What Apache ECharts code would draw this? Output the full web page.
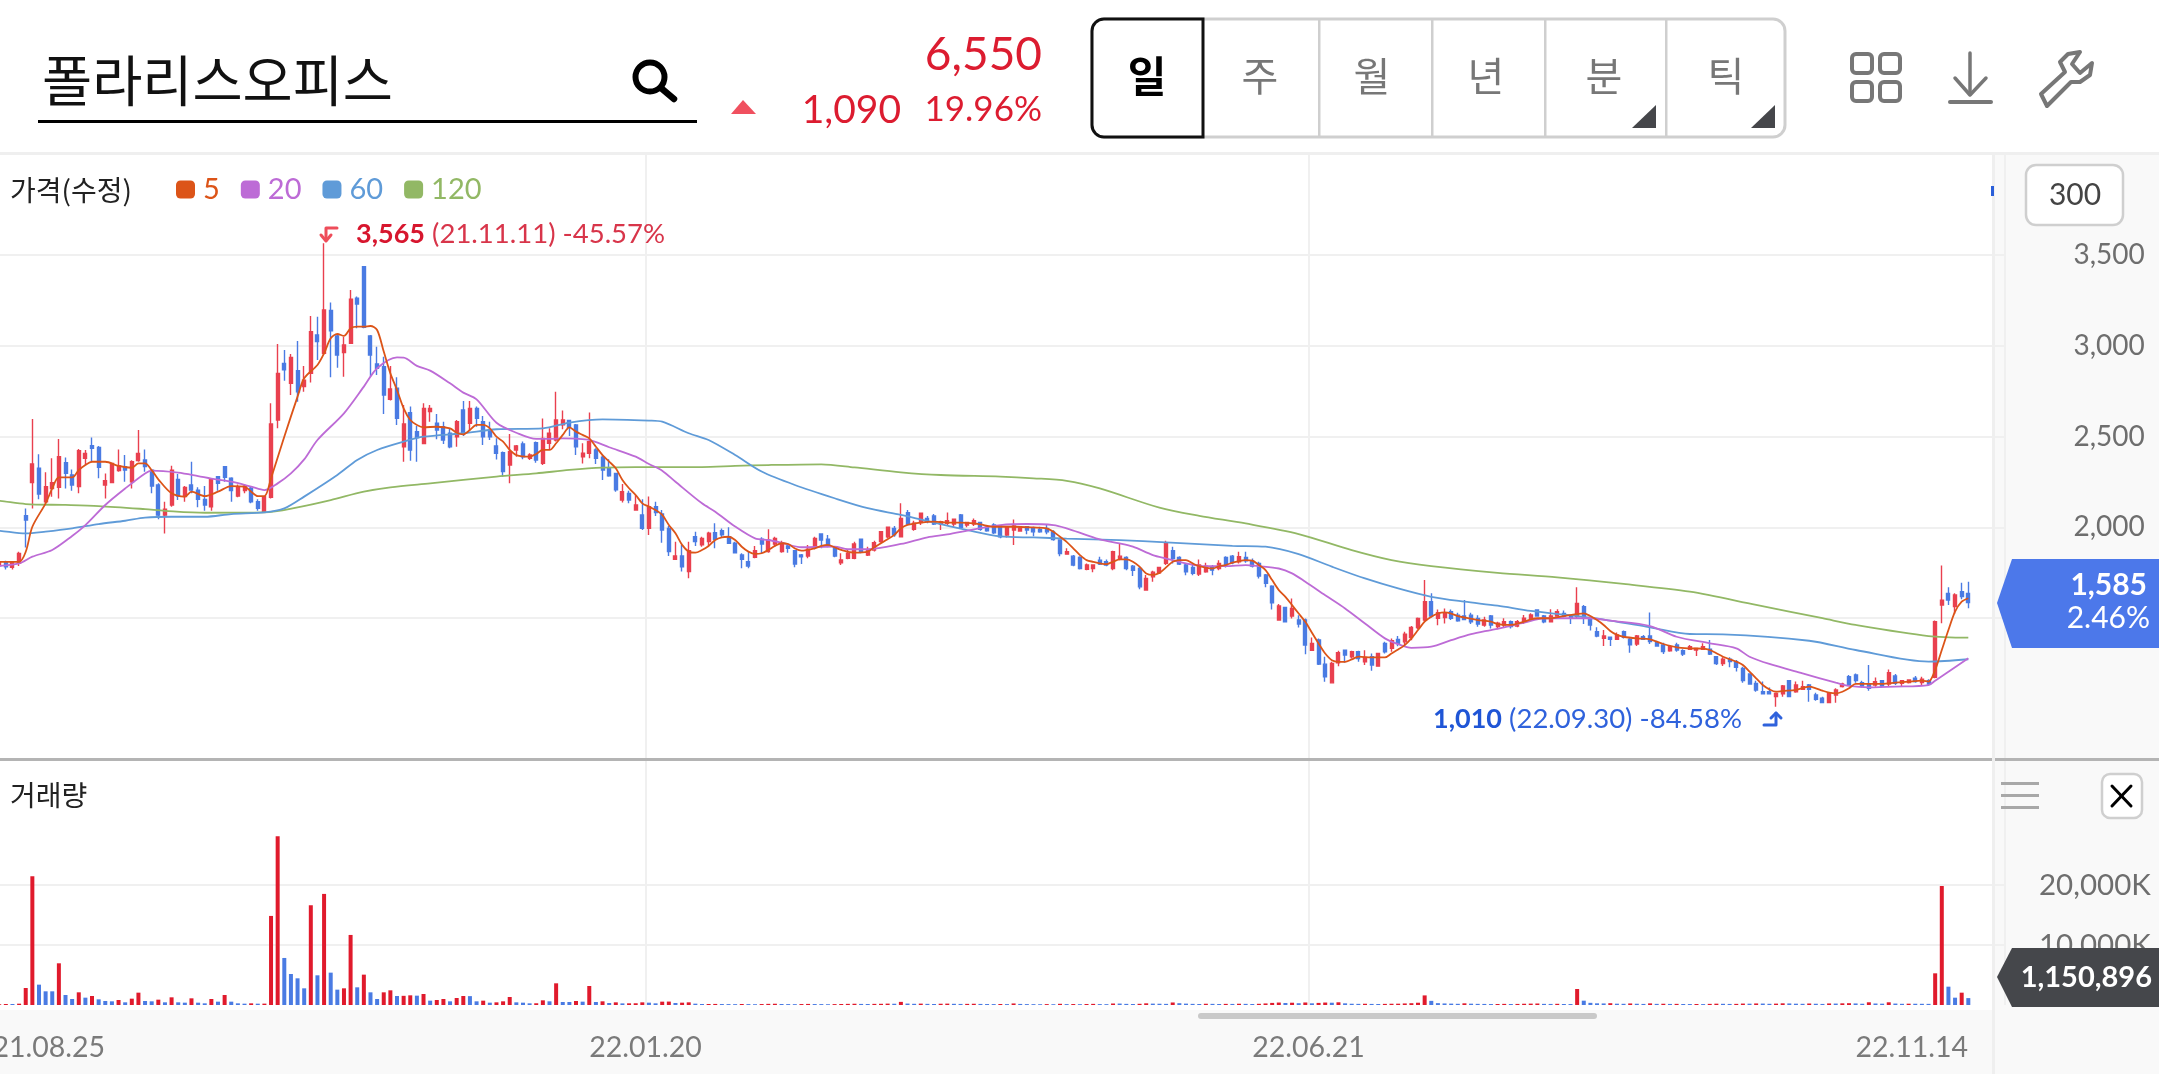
<!DOCTYPE html>
<html>
<head>
<meta charset="utf-8">
<title>폴라리스오피스</title>
<style>
  html, body { margin: 0; padding: 0; background: #fff; overflow: hidden; }
  #chart { width: 2159px; height: 1074px; }
</style>
<script src="https://cdn.jsdelivr.net/npm/echarts@6/dist/echarts.min.js"></script>
</head>
<body>
<div id="chart"></div>
<script>
// 일봉: [시가, 종가, 저가, 고가]
const candles = [
  [1830,1800,1790,1840],[1800,1815,1790,1825],[1790,1805,1775,1815],[1805,1783,1768,1816],[1779,1805,1768,1810],
  [1801,1856,1787,1865],[2064,2040,1889,2104],[2246,2349,2104,2597],[2325,2183,2154,2402],[2141,2224,2132,2303],
  [2214,2246,2168,2380],[2220,2389,2159,2486],[2356,2297,2214,2385],[2288,2233,2202,2319],[2224,2422,2187,2431],
  [2380,2407,2343,2426],[2450,2435,2361,2495],[2440,2330,2270,2448],[2233,2257,2159,2297],[2246,2352,2245,2355],
  [2312,2338,2306,2429],[2334,2316,2251,2398],[2251,2361,2214,2370],[2367,2407,2361,2536],[2371,2334,2306,2429],
  [2315,2227,2187,2319],[2233,2067,2044,2242],[2067,2099,1966,2141],[2123,2315,2113,2339],[2264,2172,2150,2293],
  [2169,2220,2141,2227],[2233,2205,2187,2361],[2205,2154,2110,2220],[2154,2123,2091,2227],[2113,2264,2091,2270],
  [2279,2242,2202,2282],[2334,2275,2251,2338],[2270,2202,2141,2275],[2172,2224,2165,2236],[2202,2227,2187,2238],
  [2215,2141,2132,2224],[2141,2104,2091,2154],[2086,2169,2086,2169],[2165,2569,2159,2683],[2591,2848,2545,3010],
  [2903,2867,2808,2977],[2793,2936,2729,2955],[2863,2747,2692,3026],[2775,2811,2747,2889],[2848,3078,2797,3164],
  [3059,3023,2922,3160],[2958,3197,2949,3565],[3194,3083,2826,3239],[3054,2949,2879,3059],[2962,3004,2830,3050],
  [3014,3256,3010,3307],[3262,3230,3096,3271],[3436,3102,3096,3436],[3054,2949,2834,3059],[2900,2876,2839,2995],
  [2885,2729,2624,2940],[2705,2762,2698,2889],[2766,2600,2564,2826],[2444,2569,2361,2674],[2631,2426,2367,2665],
  [2527,2495,2361,2558],[2462,2655,2459,2683],[2637,2655,2582,2674],[2573,2536,2485,2624],[2554,2481,2459,2582],
  [2518,2444,2435,2545],[2499,2582,2444,2591],[2646,2518,2503,2696],[2573,2655,2536,2696],[2655,2600,2554,2665],
  [2582,2499,2453,2613],[2536,2499,2481,2582],[2448,2407,2374,2490],[2411,2307,2279,2417],[2343,2417,2242,2514],
  [2426,2448,2389,2453],[2459,2389,2375,2472],[2380,2398,2371,2408],[2466,2371,2356,2472],[2352,2490,2343,2600],
  [2463,2518,2430,2545],[2481,2591,2472,2747],[2564,2591,2540,2643],[2588,2551,2503,2591],[2564,2444,2398,2569],
  [2389,2408,2352,2463],[2408,2472,2380,2632],[2426,2380,2349,2435],[2386,2316,2261,2398],[2325,2283,2279,2375],
  [2297,2206,2196,2297],[2150,2196,2136,2239],[2187,2150,2132,2202],[2095,2123,2092,2178],[2068,1994,1985,2154],
  [1994,2114,1958,2169],[2114,2081,2062,2141],[2073,1985,1915,2095],[1994,1866,1842,2007],[1824,1842,1824,1921],
  [1842,1783,1756,1903],[1756,1871,1719,1921],[1948,1921,1897,1976],[1903,1939,1893,1948],[1921,1967,1897,1976],
  [1970,1934,1884,2022],[1981,1958,1945,1994],[1948,1912,1908,2000],[1912,1860,1857,1921],[1847,1824,1774,1857],
  [1811,1787,1774,1866],[1835,1871,1829,1897],[1934,1908,1857,1945],[1866,1930,1860,1989],[1908,1939,1893,1948],
  [1866,1915,1860,1926],[1897,1884,1860,1912],[1871,1798,1780,1875],[1847,1838,1798,1853],[1842,1879,1829,1903],
  [1890,1939,1879,1948],[1963,1930,1884,1967],[1934,1897,1890,1958],[1893,1842,1835,1897],[1805,1820,1792,1857],
  [1829,1857,1824,1875],[1829,1908,1824,1921],[1934,1866,1857,1934],[1847,1871,1842,1893],[1875,1915,1866,1926],
  [1921,1976,1915,1976],[1948,2000,1939,2003],[1994,1958,1948,2007],[1948,2049,1945,2132],[2081,2018,2013,2095],
  [1989,2022,1981,2036],[2026,2077,2013,2081],[2049,2031,2022,2062],[2062,2018,2013,2073],[2018,2031,1985,2036],
  [2022,2036,2007,2081],[2018,2044,2003,2049],[2068,2000,1994,2073],[2013,2026,2000,2031],[2018,2036,2007,2049],
  [2026,1989,1981,2031],[2000,1981,1976,2013],[2013,1970,1963,2022],[2007,1948,1939,2012],[1957,1999,1944,2007],
  [1985,2007,1902,2043],[1979,1994,1975,2007],[2003,1985,1962,2007],[1994,1975,1951,2003],[1988,1975,1970,2003],
  [1994,1975,1962,2017],[1975,1933,1926,1984],[1930,1856,1841,1930],[1852,1865,1852,1884],[1841,1792,1786,1847],
  [1834,1773,1768,1841],[1768,1792,1764,1801],[1773,1792,1753,1797],[1819,1797,1792,1838],[1810,1792,1786,1823],
  [1773,1865,1764,1871],[1823,1841,1819,1911],[1834,1773,1764,1841],[1786,1763,1731,1792],[1773,1672,1658,1783],
  [1654,1718,1654,1737],[1727,1753,1700,1760],[1749,1779,1742,1783],[1801,1911,1792,1926],[1871,1828,1801,1893],
  [1834,1797,1792,1841],[1792,1755,1736,1801],[1779,1746,1736,1792],[1742,1792,1731,1823],[1755,1786,1749,1805],
  [1783,1764,1736,1792],[1773,1801,1764,1819],[1834,1792,1779,1841],[1841,1805,1797,1847],[1810,1838,1801,1865],
  [1834,1816,1805,1865],[1816,1786,1779,1828],[1801,1731,1718,1810],[1737,1691,1669,1742],[1676,1584,1547,1681],
  [1489,1566,1489,1577],[1558,1480,1480,1558],[1511,1553,1498,1608],[1489,1467,1448,1516],[1489,1351,1301,1498],
  [1323,1360,1323,1393],[1379,1246,1241,1388],[1246,1177,1149,1287],[1143,1250,1143,1259],[1254,1309,1235,1320],
  [1323,1296,1254,1327],[1287,1314,1277,1320],[1314,1277,1259,1320],[1259,1283,1241,1323],[1287,1241,1210,1305],
  [1235,1305,1235,1309],[1360,1314,1305,1369],[1333,1375,1314,1388],[1382,1360,1345,1401],[1369,1411,1351,1424],
  [1393,1448,1378,1456],[1448,1498,1438,1503],[1489,1590,1480,1709],[1590,1511,1503,1636],[1498,1529,1461,1547],
  [1503,1529,1470,1553],[1535,1498,1489,1547],[1516,1485,1480,1529],[1511,1492,1489,1599],[1516,1480,1467,1529],
  [1498,1467,1452,1516],[1461,1489,1452,1507],[1511,1462,1443,1517],[1453,1471,1438,1480],[1462,1480,1449,1499],
  [1480,1453,1443,1486],[1456,1480,1449,1489],[1480,1499,1467,1517],[1499,1517,1493,1526],[1544,1511,1508,1548],
  [1511,1480,1471,1517],[1480,1511,1475,1548],[1511,1535,1508,1548],[1526,1511,1504,1541],[1511,1499,1467,1517],
  [1508,1581,1499,1669],[1563,1499,1467,1572],[1493,1462,1431,1499],[1425,1401,1394,1449],[1388,1401,1346,1434],
  [1394,1383,1346,1397],[1383,1407,1379,1420],[1425,1394,1388,1431],[1383,1352,1309,1394],[1357,1401,1346,1407],
  [1397,1383,1379,1407],[1401,1370,1357,1530],[1364,1346,1342,1375],[1352,1315,1302,1364],[1319,1342,1315,1352],
  [1352,1324,1315,1364],[1320,1302,1291,1328],[1328,1342,1324,1352],[1324,1333,1291,1333],[1328,1342,1324,1361],
  [1328,1302,1297,1379],[1287,1250,1241,1291],[1250,1273,1236,1284],[1273,1260,1229,1284],[1260,1229,1205,1269],
  [1223,1155,1144,1232],[1192,1137,1137,1196],[1140,1104,1094,1155],[1094,1082,1082,1150],[1094,1082,1082,1118],
  [1067,1085,1012,1089],[1082,1126,1067,1131],[1155,1067,1063,1159],[1094,1131,1089,1150],[1107,1122,1104,1155],
  [1131,1107,1039,1137],[1076,1052,1045,1089],[1058,1034,1030,1067],[1034,1089,1034,1089],[1076,1104,1034,1113],
  [1122,1137,1118,1144],[1177,1131,1126,1186],[1186,1155,1144,1195],[1144,1126,1118,1155],[1137,1113,1100,1241],
  [1131,1150,1122,1173],[1155,1126,1118,1159],[1137,1199,1122,1217],[1181,1140,1131,1192],[1140,1155,1122,1159],
  [1144,1159,1140,1163],[1168,1150,1144,1181],[1144,1163,1131,1177],[1155,1137,1131,1163],[1173,1480,1168,1486],
  [1572,1599,1471,1789],[1636,1599,1572,1669],[1563,1627,1522,1636],[1645,1618,1603,1695],[1636,1585,1554,1700]
]

// 거래량 (단위 K)
const volumes = [
  170,110,140,170,170,220,2836,21462,3392,2280,
  2280,6950,1668,1000,2113,1223,1501,945,667,612,
  834,445,1056,2057,667,612,890,445,1279,445,
  389,1112,389,278,1000,556,1668,556,278,222,
  278,222,230,14845,28134,7840,5171,4448,2780,16624,
  4948,18515,5393,2558,2780,11676,2947,5060,2113,1000,
  2113,2446,1501,1530,1612,1557,1835,723,834,1000,
  612,1168,1501,1480,612,723,389,445,612,1334,
  445,389,278,290,778,612,3614,500,500,667,
  556,3169,500,612,334,445,270,280,290,445,
  389,278,556,570,334,389,445,222,167,170,
  180,160,150,140,170,150,130,160,190,210,
  170,150,140,160,180,160,150,130,150,170,
  190,210,180,170,190,200,230,210,520,240,
  200,230,190,170,210,230,200,180,190,210,
  180,160,150,170,150,260,180,150,140,130,
  150,130,200,150,160,140,170,190,150,140,
  250,240,190,170,200,280,230,210,190,420,
  300,230,190,170,210,190,170,190,180,210,
  190,170,200,260,350,410,330,380,300,420,
  280,350,410,380,450,280,210,190,210,180,
  170,190,210,220,260,300,380,1600,690,310,
  260,230,200,280,220,190,180,160,170,190,
  170,180,210,230,250,190,180,200,170,160,
  2670,720,360,280,260,300,220,200,260,210,
  180,270,190,210,180,190,170,160,170,150,
  190,220,200,180,190,240,220,260,240,200,
  230,280,260,220,200,250,210,180,260,240,
  280,300,260,210,450,250,220,450,240,200,
  220,210,200,190,5280,19830,3055,1220,2055,1151
]

// 이동평균선: 그림에서 읽은 [봉 번호, 값]
const ma5 = [
  [2,1810],[5,1810],[6,1865],[7,2003],[9,2132],[10,2214],[11,2275],[13,2275],[14,2315],[15,2343],[16,2361],[18,2361],
  [20,2338],[22,2328],[23,2352],[24,2352],[25,2315],[26,2264],[28,2187],[30,2169],[31,2196],[33,2172],[35,2196],[37,2227],
  [39,2224],[40,2196],[41,2172],[42,2172],[43,2270],[45,2499],[47,2720],[48,2821],[50,2894],[51,2958],[52,3041],[53,3065],
  [54,3054],[55,3096],[56,3105],[57,3105],[58,3109],[59,3087],[60,2968],[61,2848],[62,2756],[63,2655],[64,2591],[65,2564],
  [66,2551],[68,2554],[70,2545],[71,2521],[72,2512],[73,2536],[74,2564],[75,2564],[76,2545],[77,2499],[78,2472],[79,2426],
  [80,2398],[82,2389],[83,2404],[84,2426],[85,2426],[86,2463],[87,2509],[88,2551],[89,2527],[90,2509],[91,2490],[92,2444],
  [93,2398],[94,2362],[95,2325],[96,2261],[97,2215],[98,2178],[99,2132],[100,2114],[101,2095],[102,2068],[103,2013],[104,1967],
  [105,1903],[106,1866],[107,1860],[108,1875],[109,1897],[110,1930],[111,1945],[112,1948],[113,1930],[114,1893],[115,1866],[116,1853],
  [117,1857],[118,1875],[119,1897],[120,1912],[121,1908],[122,1884],[123,1871],[125,1884],[126,1897],[127,1903],[128,1890],[129,1875],
  [131,1860],[133,1866],[134,1890],[135,1912],[136,1934],[137,1958],[138,1994],[139,2013],[141,2026],[143,2031],[145,2026],[147,2026],
  [149,2022],[150,2016],[152,2003],[155,2003],[158,1999],[160,1994],[161,1975],[162,1948],[163,1920],[164,1884],[165,1847],[166,1819],
  [167,1810],[169,1797],[170,1810],[171,1823],[172,1823],[173,1810],[174,1783],[175,1746],[176,1738],[177,1749],[178,1779],[179,1810],
  [180,1819],[181,1819],[182,1801],[183,1786],[185,1773],[186,1786],[187,1792],[188,1805],[189,1814],[190,1819],[191,1816],[192,1792],
  [193,1764],[194,1709],[195,1654],[196,1617],[197,1571],[198,1525],[199,1479],[200,1419],[201,1360],[202,1305],[203,1268],[204,1259],
  [205,1259],[206,1272],[207,1287],[209,1283],[211,1283],[212,1305],[213,1327],[214,1351],[215,1388],[216,1434],[217,1480],[218,1507],
  [219,1525],[220,1531],[221,1525],[222,1511],[223,1503],[225,1489],[227,1480],[228,1467],[230,1462],[232,1480],[233,1493],[234,1499],
  [236,1499],[238,1511],[240,1522],[241,1526],[242,1511],[243,1489],[244,1462],[245,1429],[246,1407],[247,1397],[249,1388],[251,1383],
  [252,1370],[253,1357],[255,1339],[257,1333],[259,1331],[260,1324],[261,1306],[262,1287],[263,1273],[264,1260],[265,1241],[266,1205],
  [267,1168],[268,1131],[269,1107],[270,1094],[271,1098],[273,1104],[275,1122],[276,1113],[277,1100],[278,1089],[279,1085],[280,1094],
  [281,1113],[282,1137],[284,1137],[286,1137],[288,1144],[290,1150],[292,1155],[293,1150],[294,1214],[295,1324],[296,1434],[297,1535],
  [298,1590],[299,1609]
]
const ma20 = [
  [0,1775],[2,1786],[5,1801],[7,1838],[10,1875],[13,1952],[15,2012],[18,2123],[21,2214],[24,2297],[25,2312],[29,2301],[32,2282],
  [34,2268],[37,2251],[40,2224],[42,2205],[44,2242],[46,2297],[48,2374],[50,2481],[54,2628],[57,2775],[59,2876],[62,2936],
  [63,2935],[65,2889],[67,2863],[70,2793],[72,2742],[74,2705],[77,2576],[80,2521],[83,2487],[85,2487],[87,2490],[89,2488],
  [91,2481],[94,2441],[98,2389],[100,2349],[102,2312],[104,2251],[108,2132],[110,2086],[113,2004],[116,1939],[118,1930],[120,1915],
  [123,1890],[128,1893],[130,1879],[133,1879],[138,1908],[142,1945],[145,1961],[149,1989],[153,2012],[157,2018],[161,2012],[163,1994],
  [166,1957],[168,1933],[171,1911],[173,1893],[176,1847],[178,1828],[181,1801],[184,1786],[187,1786],[190,1792],[192,1786],[195,1773],
  [197,1746],[199,1700],[202,1626],[205,1553],[208,1470],[211,1388],[213,1356],[215,1336],[218,1342],[221,1378],[224,1411],[227,1434],
  [229,1449],[232,1475],[235,1499],[239,1499],[242,1499],[245,1486],[251,1456],[255,1397],[260,1361],[264,1333],[266,1287],[269,1247],
  [274,1195],[279,1144],[281,1126],[284,1118],[288,1122],[293,1131],[294,1155],[299,1278]
]
const ma60 = [
  [0,1984],[2,1981],[6,1966],[9,1976],[13,1994],[17,2018],[21,2036],[24,2053],[28,2058],[33,2058],[37,2073],[42,2082],[45,2104],
  [48,2169],[53,2288],[56,2371],[59,2426],[63,2472],[66,2499],[72,2518],[77,2540],[84,2545],[88,2577],[93,2595],[100,2588],
  [102,2582],[106,2518],[109,2481],[113,2398],[117,2307],[122,2233],[128,2160],[133,2105],[138,2068],[143,2026],[148,1985],[153,1950],
  [158,1944],[163,1938],[171,1929],[178,1917],[188,1898],[193,1893],[198,1852],[203,1783],[208,1718],[213,1663],[218,1617],[223,1590],
  [228,1568],[233,1539],[242,1502],[251,1449],[257,1412],[262,1410],[275,1375],[282,1324],[293,1260],[299,1273]
]
const ma120 = [
  [0,2150],[2,2146],[6,2128],[12,2123],[17,2117],[24,2100],[27,2091],[33,2080],[42,2082],[47,2110],[52,2150],[57,2196],[61,2220],
  [67,2242],[77,2279],[83,2297],[88,2316],[93,2329],[98,2332],[108,2332],[113,2338],[118,2343],[126,2347],[131,2330],[138,2303],
  [144,2288],[153,2279],[158,2270],[163,2256],[168,2214],[177,2108],[183,2063],[190,2021],[198,1963],[206,1874],[212,1819],[218,1786],
  [228,1749],[237,1724],[247,1688],[257,1645],[267,1572],[277,1499],[282,1462],[293,1401],[299,1392]
]

const priceTicks = [1500, 2000, 2500, 3000, 3500]
const volumeTicks = [10000, 20000]
const dateLabels = { 10: '21.08.25', 100: '22.01.20', 200: '22.06.21', 291: '22.11.14' }
const dateLines = [100, 200]

// 오른쪽 빈 칸까지 포함한 카테고리
const categories = Array.from({ length: candles.length + 5 }, (_, i) => 'd' + i)

const LATO = 'Lato'
const KR = '"Noto Sans CJK KR"'
const RED = '#e9404f'
const BLUE = '#4a7be3'
const VOL_RED = '#e01a2c'
const GRID = '#f0f0f0'
const PRICE_RED = '#dc1c30'
const BAND = 6.63
const GRID_LEFT = -17.37

function text(x, y, str, o) {
  return {
    type: 'text',
    x,
    y,
    z: o.z || 5,
    silent: true,
    style: {
      text: str,
      fill: o.fill || '#222',
      fontSize: o.size,
      fontFamily: o.family || LATO,
      fontWeight: o.weight || 'normal',
      align: o.align || 'left',
      verticalAlign: 'middle'
    }
  }
}
function rect(x, y, w, h, fill, z, r, stroke, lw) {
  return {
    type: 'rect',
    silent: true,
    z: z === undefined ? 1 : z,
    shape: { x, y, width: w, height: h, r: r || 0 },
    style: { fill: fill || 'none', stroke: stroke || null, lineWidth: lw || 0 }
  }
}
function line(points, stroke, lw, z) {
  return {
    type: 'polyline',
    silent: true,
    z: z || 5,
    shape: { points },
    style: { stroke, lineWidth: lw, fill: 'none', lineCap: 'round', lineJoin: 'round' }
  }
}
function poly(points, fill, z) {
  return {
    type: 'polygon',
    silent: true,
    z: z || 5,
    shape: { points },
    style: { fill }
  }
}

// 화면 장식: 헤더, 오른쪽 패널, 가격 꼬리표
function chrome() {
  const g = []
  // 패널 배경
  g.push(rect(1993, 153, 166, 921, '#f9f9f9', -1))
  g.push(rect(0, 1010, 1993, 64, '#f9f9f9', -1))
  g.push(rect(0, 152, 2159, 3, '#efefef', 3))
  g.push(rect(1992, 153, 3, 921, '#efefef', 3))
  g.push(rect(0, 758, 1992, 3, '#b4b4b4', 3))
  g.push(rect(1995, 758, 164, 3, '#b4b4b4', 3))

  // 종목명, 검색
  g.push(text(42, 80, '폴라리스오피스', { size: 54.5, family: KR, fill: '#111' }))
  g.push(rect(38, 120, 659, 3, '#000', 5))
  g.push({
    type: 'circle', silent: true, z: 5,
    shape: { cx: 650, cy: 77, r: 14.5 },
    style: { fill: 'none', stroke: '#000', lineWidth: 6 }
  })
  g.push(line([[661, 88], [674, 99]], '#000', 6.5))

  // 현재가
  g.push(text(1042, 55, '6,550', { size: 46, fill: PRICE_RED, align: 'right' }))
  g.push(poly([[743, 100], [756, 114], [731, 114]], '#f0505f'))
  g.push(text(901, 110, '1,090', { size: 39, fill: PRICE_RED, align: 'right' }))
  g.push(text(1042, 110, '19.96%', { size: 35, fill: PRICE_RED, align: 'right' }))

  // 주기 버튼
  g.push(rect(1092, 19, 693, 118, '#fff', 4, 12, '#cfcfcf', 3))
  ;[1319, 1432, 1545, 1666].forEach(x => g.push(rect(x - 1, 19, 2.5, 118, '#cfcfcf', 5)))
  g.push(rect(1092, 19, 111, 118, '#fff', 6, [12, 0, 0, 12], '#111', 3))
  g.push(text(1147, 76, '일', { size: 42, family: KR, weight: 'bold', fill: '#000', align: 'center', z: 7 }))
  const tabs = [['주', 1260], ['월', 1372], ['년', 1486], ['분', 1604], ['틱', 1726]]
  tabs.forEach(t => g.push(text(t[1], 76, t[0], { size: 40, family: KR, fill: '#777', align: 'center' })))
  g.push(poly([[1656, 105], [1656, 128], [1632, 128]], '#45464a'))
  g.push(poly([[1775, 105], [1775, 128], [1751, 128]], '#45464a'))

  // 아이콘
  ;[[1852, 54], [1880, 54], [1852, 82], [1880, 82]].forEach(p => {
    g.push(rect(p[0], p[1], 20, 19, null, 5, 4, '#777', 4))
  })
  g.push(line([[1970, 53], [1970, 94]], '#777', 3.5))
  g.push(line([[1955, 78], [1970, 95], [1986, 78]], '#777', 3.5))
  g.push(rect(1948, 100, 45, 4, '#777', 5, 2))
  g.push(line([[2047, 106], [2041, 94], [2065, 72], [2060, 62], [2068, 54], [2080, 52], [2072, 64], [2080, 73],
    [2092, 63], [2090, 75], [2080, 82], [2071, 82], [2047, 106]], '#777', 4))

  // 범례 앞 제목
  g.push(text(10, 190, '가격(수정)', { size: 28, family: KR, fill: '#222' }))
  g.push(text(10, 795, '거래량', { size: 28, family: KR, fill: '#222' }))

  // 최고/최저 화살표
  g.push(line([[337, 228], [326, 228], [326, 240]], '#ee4d5a', 3))
  g.push(line([[321, 235], [326, 241], [331, 235]], '#ee4d5a', 3))
  g.push(line([[1764, 725], [1776, 725], [1776, 713]], '#2f62dc', 3))
  g.push(line([[1771, 718], [1776, 713], [1781, 718]], '#2f62dc', 3))

  // 오른쪽 패널
  g.push(rect(2026, 165, 97, 60, '#fff', 5, 10, '#cfcfcf', 2.5))
  g.push(text(2075, 195, '300', { size: 30, fill: '#444', align: 'center', z: 6 }))
  g.push(rect(1991, 186, 3, 10, '#2b5fd9', 6))
  g.push(poly([[1997, 603], [2012, 559], [2159, 559], [2159, 648], [2012, 648]], '#4c78ea', 20))
  g.push(text(2147, 585, '1,585', { size: 30, weight: 'bold', fill: '#fff', align: 'right', z: 21 }))
  g.push(text(2150, 618, '2.46%', { size: 30, fill: '#fff', align: 'right', z: 21 }))

  g.push(rect(2001, 782, 38, 3, '#a8a8a8', 5))
  g.push(rect(2001, 794, 38, 3, '#a8a8a8', 5))
  g.push(rect(2001, 806, 38, 3, '#a8a8a8', 5))
  g.push(rect(2102, 774, 40, 44, '#fff', 5, 8, '#cfcfcf', 2.5))
  g.push(line([[2112, 786], [2131, 806]], '#000', 3, 6))
  g.push(line([[2131, 786], [2112, 806]], '#000', 3, 6))

  g.push(poly([[1997, 977], [2012, 948], [2159, 948], [2159, 1007], [2012, 1007]], '#45474b', 20))
  g.push(text(2152, 978, '1,150,896', { size: 29, weight: 'bold', fill: '#fff', align: 'right', z: 21 }))

  // 스크롤바
  g.push(rect(1198, 1013, 399, 6, '#c9c9c9', 5, 3))
  return g
}

function maSeries(name, data, color) {
  return {
    name,
    type: 'line',
    data,
    xAxisIndex: 0,
    yAxisIndex: 0,
    symbol: 'none',
    smooth: 0.3,
    z: 3,
    color,
    lineStyle: { width: 1.8, color },
    itemStyle: { color },
    silent: true
  }
}

const xAxisBase = {
  type: 'category',
  data: categories,
  boundaryGap: true,
  axisLine: { show: false },
  axisTick: { show: false },
  splitLine: {
    show: true,
    interval: i => dateLines.includes(i),
    lineStyle: { color: GRID, width: 2 }
  }
}

const option = {
  animation: false,
  backgroundColor: '#fff',
  textStyle: { fontFamily: LATO },
  legend: {
    data: ['5', '20', '60', '120'],
    left: 176,
    top: 175,
    icon: 'roundRect',
    itemWidth: 19,
    itemHeight: 18,
    itemGap: 21,
    selectedMode: false,
    padding: 0,
    textStyle: { color: 'inherit', fontSize: 29, fontFamily: LATO, padding: [3, 0, 0, 3] }
  },
  grid: [
    { left: GRID_LEFT, top: 155, height: 603, width: BAND * categories.length, outerBoundsMode: 'none' },
    { left: GRID_LEFT, top: 760, height: 245, width: BAND * categories.length, outerBoundsMode: 'none' }
  ],
  xAxis: [
    Object.assign({ gridIndex: 0, axisLabel: { show: false } }, xAxisBase),
    Object.assign({
      gridIndex: 1,
      axisLabel: {
        show: true,
        interval: i => dateLabels[i] !== undefined,
        formatter: (v, i) => dateLabels[i] || '',
        hideOverlap: false,
        margin: 28,
        padding: [0, 7, 0, 0],
        color: '#7a7a7a',
        fontSize: 28.5,
        fontFamily: LATO
      }
    }, xAxisBase)
  ],
  yAxis: [
    {
      gridIndex: 0,
      type: 'value',
      position: 'right',
      min: 729,
      max: 4051,
      axisLine: { show: false },
      axisTick: { show: false, customValues: priceTicks },
      splitLine: { show: true, lineStyle: { color: GRID, width: 2 } },
      axisLabel: {
        customValues: priceTicks,
        align: 'right',
        margin: 140,
        padding: [10, 0, 0, 0],
        color: '#6e6e6e',
        fontSize: 28,
        fontFamily: LATO,
        formatter: v => v.toLocaleString('en-US')
      }
    },
    {
      gridIndex: 1,
      type: 'value',
      position: 'right',
      min: 0,
      max: 40833,
      axisLine: { show: false },
      axisTick: { show: false, customValues: volumeTicks },
      splitLine: { show: true, lineStyle: { color: GRID, width: 2 } },
      axisLabel: {
        customValues: volumeTicks,
        align: 'right',
        margin: 146,
        padding: [10, 0, 0, 0],
        color: '#6e6e6e',
        fontSize: 29.5,
        fontFamily: LATO,
        formatter: v => v.toLocaleString('en-US') + 'K'
      }
    }
  ],
  series: [
    {
      name: '가격',
      type: 'candlestick',
      data: candles,
      xAxisIndex: 0,
      yAxisIndex: 0,
      barWidth: 3.5,
      z: 2,
      silent: true,
      itemStyle: {
        color: RED,
        color0: BLUE,
        borderColor: RED,
        borderColor0: BLUE,
        borderWidth: 1.4
      },
      markPoint: {
        silent: true,
        symbol: 'circle',
        symbolSize: 0,
        animation: false,
        data: [
          {
            coord: [51, 3565],
            label: {
              show: true,
              position: 'right',
              offset: [27, -9],
              formatter: '{b|3,565} {n|(21.11.11) -45.57%}',
              rich: {
                b: { fontSize: 27, fontWeight: 'bold', color: '#d7162e', fontFamily: LATO },
                n: { fontSize: 27.5, color: '#d8354a', fontFamily: LATO, padding: [0, 0, 0, 4] }
              }
            }
          },
          {
            coord: [270, 1010],
            label: {
              show: true,
              position: 'left',
              offset: [-29, 12],
              formatter: '{b|1,010} {n|(22.09.30) -84.58%}',
              rich: {
                b: { fontSize: 27, fontWeight: 'bold', color: '#1f55d6', fontFamily: LATO },
                n: { fontSize: 27.5, color: '#2f62dc', fontFamily: LATO, padding: [0, 0, 0, 4] }
              }
            }
          }
        ]
      }
    },
    maSeries('120', ma120, '#92b865'),
    maSeries('60', ma60, '#5f9bd8'),
    maSeries('20', ma20, '#bd6bd6'),
    maSeries('5', ma5, '#dc5418'),
    {
      name: '거래량',
      type: 'bar',
      xAxisIndex: 1,
      yAxisIndex: 1,
      barWidth: 4,
      z: 2,
      silent: true,
      // 전일 거래량보다 늘면 빨강
      data: volumes.map((v, i) => ({
        value: v,
        itemStyle: { color: i > 0 && v > volumes[i - 1] ? VOL_RED : BLUE }
      }))
    }
  ],
  graphic: { elements: chrome() }
}

const chart = echarts.init(document.getElementById('chart'), null, { renderer: 'canvas' })
chart.setOption(option)
</script>
</body>
</html>
